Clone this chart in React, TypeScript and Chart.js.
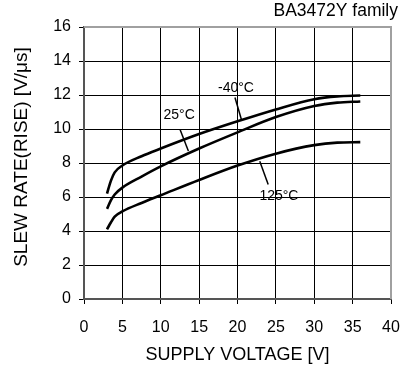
import React, { useEffect, useRef } from "react";
import { Chart, registerables } from "chart.js";

Chart.register(...registerables);

// ---- data ----
const voltages = [3, 3.5, 4, 5, 7.5, 10, 15, 20, 25, 30, 33, 36];
const rateMinus40 = [6.2, 6.95, 7.45, 7.85, 8.4, 8.85, 9.7, 10.45, 11.15, 11.75, 11.92, 11.97];
const rate25 = [5.3, 5.8, 6.15, 6.55, 7.2, 7.8, 8.85, 9.8, 10.7, 11.35, 11.55, 11.62];
const rate125 = [4.1, 4.5, 4.85, 5.15, 5.65, 6.1, 7.0, 7.85, 8.55, 9.05, 9.2, 9.23];

const seriesNames = ["-40°C", "25°C", "125°C"];
// label anchor (x, y) in data units
const labelX = [19.8, 12.4, 25.4];
const labelY = [12.4, 10.8, 6.05];
// leader lines (from -> to) in data units
const leaderFromX = [19.67, 12.5, 22.9];
const leaderFromY = [11.85, 9.98, 8.1];
const leaderToX = [20.5, 13.6, 24.0];
const leaderToY = [10.57, 8.7, 6.73];

const xMin = 0, xMax = 40, xStep = 5;
const yMin = 0, yMax = 16, yStep = 2;

const chartTitle = "BA3472Y family";
const xTitle = "SUPPLY VOLTAGE [V]";
const yTitle = "SLEW RATE(RISE) [V/μs]";

const FONT = "'Liberation Sans', Arial, sans-serif";

const toPoints = (ys: number[]) => voltages.map((v, i) => ({ x: v, y: ys[i] }));

const overlayPlugin = {
  id: "overlay",
  afterDraw(chart: any) {
    const { ctx, chartArea, scales } = chart;
    const xs = scales.x;
    const ys = scales.y;
    ctx.save();
    // top and right frame
    ctx.strokeStyle = "#a0a0a0";
    ctx.lineWidth = 2;
    ctx.beginPath();
    ctx.moveTo(chartArea.left, chartArea.top);
    ctx.lineTo(chartArea.right, chartArea.top);
    ctx.lineTo(chartArea.right, chartArea.bottom);
    ctx.stroke();
    // title
    ctx.fillStyle = "#000";
    ctx.font = `17.5px ${FONT}`;
    ctx.textAlign = "right";
    ctx.textBaseline = "middle";
    ctx.fillText(chartTitle, 398, 11);
    // y axis title
    ctx.save();
    ctx.translate(22, 157);
    ctx.rotate(-Math.PI / 2);
    ctx.textAlign = "center";
    ctx.font = `19px ${FONT}`;
    ctx.fillText(yTitle, 0, 0);
    ctx.restore();
    // annotations
    ctx.font = `14px ${FONT}`;
    ctx.textAlign = "center";
    ctx.strokeStyle = "#000";
    ctx.lineWidth = 1.5;
    seriesNames.forEach((name, i) => {
      ctx.beginPath();
      ctx.moveTo(xs.getPixelForValue(leaderFromX[i]), ys.getPixelForValue(leaderFromY[i]));
      ctx.lineTo(xs.getPixelForValue(leaderToX[i]), ys.getPixelForValue(leaderToY[i]));
      ctx.stroke();
      ctx.fillText(name, xs.getPixelForValue(labelX[i]), ys.getPixelForValue(labelY[i]));
    });
    ctx.restore();
  },
};

export default function App() {
  const ref = useRef<HTMLCanvasElement>(null);
  useEffect(() => {
    document.body.style.margin = "0";
    const canvas = ref.current!;
    const ds = (data: number[]) => ({
      data: toPoints(data),
      borderColor: "#000",
      borderWidth: 2.6,
      pointRadius: 0,
      fill: false,
      cubicInterpolationMode: "monotone" as const,
    });
    const chart = new Chart(canvas, {
      type: "line",
      data: { datasets: [ds(rateMinus40), ds(rate25), ds(rate125)] },
      options: {
        animation: false,
        responsive: false,
        devicePixelRatio: 1,
        layout: { padding: { top: 27, right: 12, left: 0, bottom: 0 } },
        plugins: { legend: { display: false }, tooltip: { enabled: false } },
        scales: {
          x: {
            type: "linear",
            min: xMin,
            max: xMax,
            afterFit: (s: any) => { s.height = 67; s.paddingLeft = 0; s.paddingRight = 0; },
            ticks: { stepSize: xStep, color: "#000", font: { size: 16, family: FONT }, padding: 14, maxRotation: 0 },
            grid: {
              color: (c: any) => (c.tick && (c.tick.value === xMax || c.tick.value === xMin) ? "rgba(0,0,0,0)" : "#000"),
              lineWidth: 1,
              tickColor: "#000",
              tickLength: 5,
            },
            border: { color: "#555", width: 2 },
            title: { display: true, text: xTitle, color: "#000", font: { size: 18, family: FONT }, padding: { top: 0, bottom: 0 } },
          },
          y: {
            type: "linear",
            min: yMin,
            max: yMax,
            afterFit: (s: any) => { s.width = 84; s.paddingTop = 0; s.paddingBottom = 0; },
            ticks: { stepSize: yStep, color: "#000", font: { size: 16, family: FONT }, padding: 8 },
            grid: {
              color: (c: any) => (c.tick && (c.tick.value === yMax || c.tick.value === yMin) ? "rgba(0,0,0,0)" : "#000"),
              lineWidth: 1,
              tickColor: "#000",
              tickLength: 5,
            },
            border: { color: "#555", width: 2 },
            title: { display: false, text: yTitle },
          },
        },
      },
      plugins: [overlayPlugin],
    });
    return () => chart.destroy();
  }, []);
  return (
    <div style={{ position: "fixed", left: 0, top: 0, width: 403, height: 366, background: "#fff" }}>
      <canvas ref={ref} width={403} height={366} style={{ display: "block" }} />
    </div>
  );
}
